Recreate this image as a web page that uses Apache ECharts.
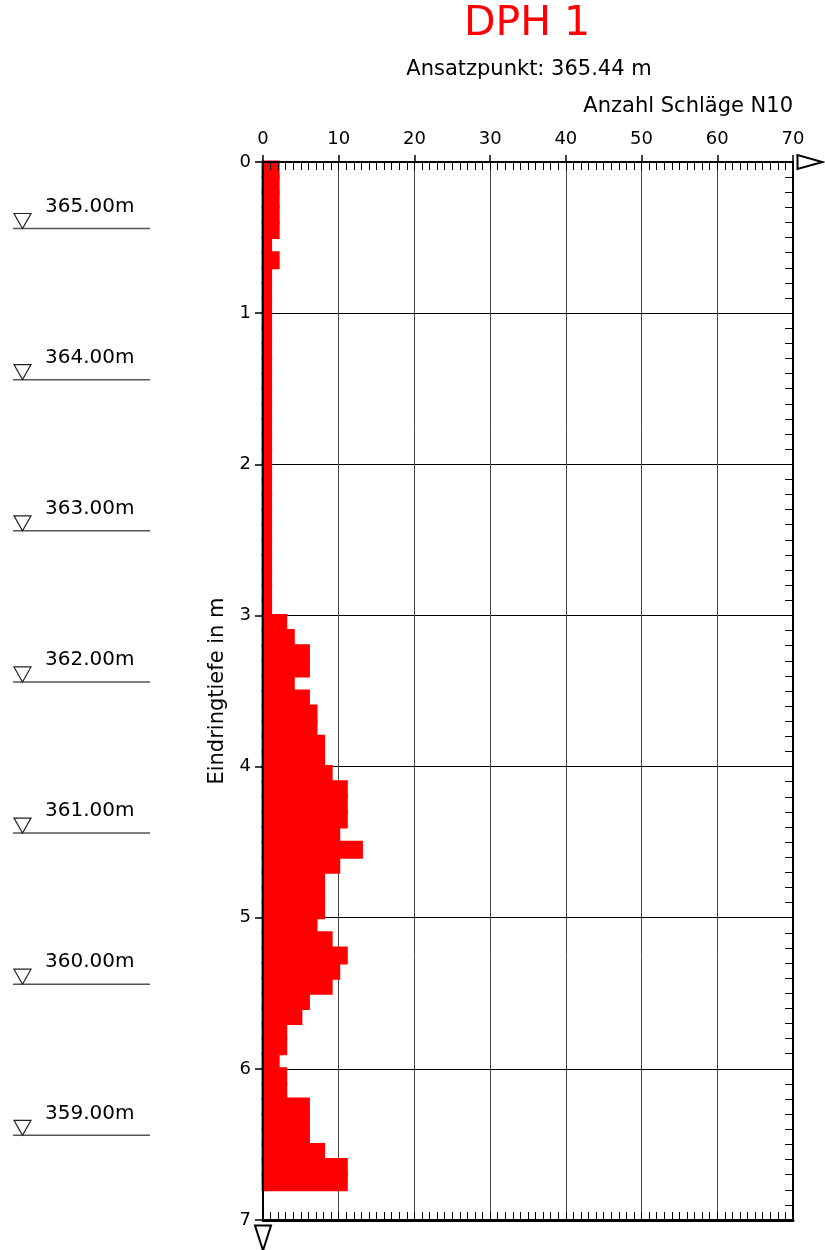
<!DOCTYPE html>
<html>
<head>
<meta charset="utf-8">
<script src="https://cdn.jsdelivr.net/npm/echarts@6/dist/echarts.min.js"></script>
<style>
html,body{margin:0;padding:0;background:#fff;}
#chart{width:825px;height:1250px;}
</style>
</head>
<body>
<div id="chart"></div>
<script>
// ---- data ----
var titleText = 'DPH 1';
var subtitleText = 'Ansatzpunkt: 365.44 m';
var xAxisName = 'Anzahl Schläge N10';
var yAxisName = 'Eindringtiefe in m';
var startElevation = 365.44;
var stepLength = 0.1;
var depthFrom = [
  0.0,0.1,0.2,0.3,0.4,0.5,0.6,0.7,0.8,0.9,
  1.0,1.1,1.2,1.3,1.4,1.5,1.6,1.7,1.8,1.9,
  2.0,2.1,2.2,2.3,2.4,2.5,2.6,2.7,2.8,2.9,
  3.0,3.1,3.2,3.3,3.4,3.5,3.6,3.7,3.8,3.9,
  4.0,4.1,4.2,4.3,4.4,4.5,4.6,4.7,4.8,4.9,
  5.0,5.1,5.2,5.3,5.4,5.5,5.6,5.7,5.8,5.9,
  6.0,6.1,6.2,6.3,6.4,6.5,6.6,6.7
];
var blows = [
  2,2,2,2,2,1,2,1,1,1,
  1,1,1,1,1,1,1,1,1,1,
  1,1,1,1,1,1,1,1,1,1,
  3,4,6,6,4,6,7,7,8,8,
  9,11,11,11,10,13,10,8,8,8,
  7,9,11,10,9,6,5,3,3,2,
  3,3,6,6,6,8,11,11
];
var elevations = [365.00, 364.00, 363.00, 362.00, 361.00, 360.00, 359.00];
var xTicks = [0, 70, 10];   // min, max, interval
var yTicks = [0, 7, 1];     // min, max, interval

var FONT = 'DejaVu Sans';
var barData = depthFrom.map(function (d, i) { return [d, d + stepLength, blows[i]]; });
var elevData = elevations.map(function (e) { return [+(startElevation - e).toFixed(2), e]; });

var chart = echarts.init(document.getElementById('chart'), null, {renderer: 'canvas'});
var axisBlack = {color: '#000', width: 2};

var option = {
  backgroundColor: '#fff',
  animation: false,
  textStyle: {fontFamily: FONT},
  title: [
    {text: titleText, left: 527, top: 4, padding: 0, textAlign: 'center',
     textStyle: {color: '#ff0000', fontSize: 41, fontWeight: 'normal', fontFamily: FONT}},
    {text: subtitleText, left: 529, top: 59, padding: 0, textAlign: 'center',
     textStyle: {color: '#000', fontSize: 21, fontWeight: 'normal', fontFamily: FONT}},
    {text: xAxisName, right: 32, top: 96, padding: 0,
     textStyle: {color: '#000', fontSize: 21, fontWeight: 'normal', fontFamily: FONT}}
  ],
  grid: [
    {left: 263, right: 32, top: 162, bottom: 30},
    {left: 13, width: 137, top: 162, bottom: 30}
  ],
  xAxis: [
    { // top major
      gridIndex: 0, type: 'value', position: 'top', min: xTicks[0], max: xTicks[1], interval: xTicks[2], z: 10,
      axisLine: {show: true, onZero: false, lineStyle: axisBlack, symbol: ['none', 'emptyTriangle'], symbolSize: [14, 25], symbolOffset: [0, 17]},
      axisTick: {show: true, inside: false, length: 7, lineStyle: {color: '#000', width: 1.5}},
      axisLabel: {show: true, color: '#000', fontSize: 18, margin: 14, fontFamily: FONT},
      splitLine: {show: false}
    },
    { // top minor
      gridIndex: 0, type: 'value', position: 'top', min: 0, max: 70, interval: 1, z: 10,
      axisLine: {show: false, onZero: false},
      axisTick: {show: true, inside: true, length: 8, lineStyle: {color: '#000', width: 1}},
      axisLabel: {show: false}, splitLine: {show: false}
    },
    { // bottom minor
      gridIndex: 0, type: 'value', position: 'bottom', min: 0, max: 70, interval: 1, z: 10,
      axisLine: {show: true, onZero: false, lineStyle: {color: '#000', width: 3}},
      axisTick: {show: true, inside: true, length: 8, lineStyle: {color: '#000', width: 1}},
      axisLabel: {show: false}, splitLine: {show: false}
    },
    { // vertical grid lines
      gridIndex: 0, type: 'value', position: 'bottom', min: xTicks[0], max: xTicks[1], interval: xTicks[2], z: 0,
      axisLine: {show: false, onZero: false}, axisTick: {show: false}, axisLabel: {show: false},
      splitLine: {show: true, lineStyle: {color: '#444', width: 1}}
    },
    { // elevation markers
      gridIndex: 1, type: 'value', min: 0, max: 1, show: false
    }
  ],
  yAxis: [
    { // left major
      gridIndex: 0, type: 'value', inverse: true, position: 'left', min: yTicks[0], max: yTicks[1], interval: yTicks[2], z: 10,
      name: yAxisName, nameLocation: 'middle', nameGap: 35, nameRotate: 90,
      nameTextStyle: {color: '#000', fontSize: 21, fontFamily: FONT},
      axisLine: {show: true, onZero: false, lineStyle: axisBlack, symbol: ['emptyTriangle', 'none'], symbolSize: [16, 25], symbolOffset: [-18, 0]},
      axisTick: {show: true, inside: false, length: 8, lineStyle: {color: '#000', width: 1.5}},
      axisLabel: {show: true, color: '#000', fontSize: 18, margin: 12, fontFamily: FONT},
      splitLine: {show: false}
    },
    { // right minor
      gridIndex: 0, type: 'value', inverse: true, position: 'right', min: 0, max: 7, interval: 0.1, z: 10,
      axisLine: {show: true, onZero: false, lineStyle: axisBlack},
      axisTick: {show: true, inside: true, length: 8, lineStyle: {color: '#000', width: 1}},
      axisLabel: {show: false}, splitLine: {show: false}
    },
    { // horizontal grid lines
      gridIndex: 0, type: 'value', inverse: true, position: 'left', min: yTicks[0], max: yTicks[1], interval: yTicks[2], z: 0,
      axisLine: {show: false, onZero: false}, axisTick: {show: false}, axisLabel: {show: false},
      splitLine: {show: true, lineStyle: {color: '#000', width: 1}}
    },
    { // elevation markers
      gridIndex: 1, type: 'value', inverse: true, min: 0, max: 7, show: false
    }
  ],
  series: [
    {
      type: 'custom', name: 'N10', xAxisIndex: 0, yAxisIndex: 0, z: 2,
      data: barData,
      renderItem: function (params, api) {
        var p0 = api.coord([0, api.value(0)]);
        var p1 = api.coord([api.value(2), api.value(1)]);
        return {
          type: 'rect',
          shape: {x: p0[0], y: p0[1], width: p1[0] - p0[0], height: p1[1] - p0[1]},
          style: {fill: '#ff0000', stroke: '#ff0000', lineWidth: 3}
        };
      }
    },
    {
      type: 'custom', name: 'Höhen', xAxisIndex: 4, yAxisIndex: 3, z: 2,
      data: elevData,
      renderItem: function (params, api) {
        var a = api.coord([0, api.value(0)]);
        var b = api.coord([1, api.value(0)]);
        var y = a[1], x0 = a[0];
        return {
          type: 'group',
          children: [
            {type: 'line', shape: {x1: x0, y1: y, x2: b[0], y2: y}, style: {stroke: '#555', lineWidth: 1.5}},
            {type: 'polygon', shape: {points: [[x0 + 1, y - 15], [x0 + 18, y - 15], [x0 + 9.5, y]]},
             style: {fill: '#fff', stroke: '#222', lineWidth: 1.2}},
            {type: 'text', x: x0 + 32, y: y - 22,
             style: {text: api.value(1).toFixed(2) + 'm', fill: '#000', font: '20px "DejaVu Sans"', verticalAlign: 'middle', align: 'left'}}
          ]
        };
      }
    }
  ]
};
chart.setOption(option);
</script>
</body>
</html>
